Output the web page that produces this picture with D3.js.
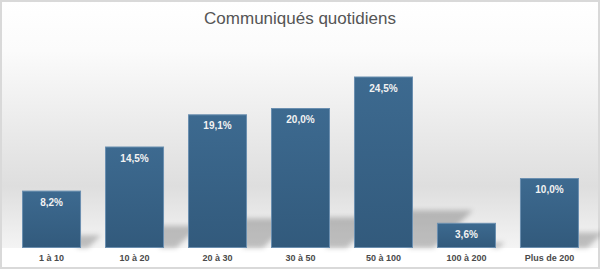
<!DOCTYPE html>
<html>
<head>
<meta charset="utf-8">
<script src="https://cdn.jsdelivr.net/npm/d3@7"></script>
<style>
  body { margin: 0; background: #fff; }
  text { font-family: "Liberation Sans", Arial, sans-serif; }
</style>
</head>
<body>
<div id="chart"></div>
<script>
const width = 600;
const height = 269;

const categories = ["1 à 10", "10 à 20", "20 à 30", "30 à 50", "50 à 100", "100 à 200", "Plus de 200"];
const values = [8.2, 14.5, 19.1, 20.0, 24.5, 3.6, 10.0];
const title = "Communiqués quotidiens";

const baseY = 248;

const svg = d3
  .select("#chart")
  .append("svg")
  .attr("width", width)
  .attr("height", height);

const defs = svg.append("defs");

// background gradient
const bg = defs
  .append("linearGradient")
  .attr("id", "bg")
  .attr("x1", "0%").attr("x2", "0%")
  .attr("y1", "0%").attr("y2", "100%");
bg.append("stop").attr("offset", "0%").attr("stop-color", "#ffffff");
bg.append("stop").attr("offset", "20%").attr("stop-color", "#fbfbfb");
bg.append("stop").attr("offset", "75%").attr("stop-color", "#dedede");
bg.append("stop").attr("offset", "100%").attr("stop-color", "#f4f4f4");

const barGrad = defs
  .append("linearGradient")
  .attr("id", "bar")
  .attr("x1", "0%").attr("x2", "0%")
  .attr("y1", "0%").attr("y2", "100%");
barGrad.append("stop").attr("offset", "0%").attr("stop-color", "#3d6a90");
barGrad.append("stop").attr("offset", "100%").attr("stop-color", "#325a7c");

defs.append("filter")
  .attr("id", "blur")
  .attr("x", "-20%").attr("y", "-20%")
  .attr("width", "140%").attr("height", "140%")
  .append("feGaussianBlur")
  .attr("stdDeviation", 2.5);

svg.append("rect")
  .attr("x", 1).attr("y", 1)
  .attr("width", width - 2).attr("height", baseY - 1)
  .attr("fill", "url(#bg)");

svg.append("rect")
  .attr("x", 1).attr("y", 1)
  .attr("width", width - 2).attr("height", height - 2)
  .attr("fill", "none")
  .attr("stroke", "#d9d9d9")
  .attr("stroke-width", 2);

const x = d3.scaleBand()
  .domain(categories)
  .range([10, 591])
  .paddingInner(0.289)
  .paddingOuter(0.145);

const y = d3.scaleLinear().domain([0, 30]).range([baseY, 38]);

const data = categories.map((c, i) => ({ cat: c, value: values[i] }));

// shadows
svg.append("g")
  .attr("filter", "url(#blur)")
  .selectAll("path")
  .data(data)
  .enter()
  .append("path")
  .attr("fill", "rgba(0,0,0,0.22)")
  .attr("d", (d) => {
    const xr = x(d.cat) + x.bandwidth() - 4;
    const h = baseY - y(d.value);
    const top = baseY - h * 0.22;
    return `M${xr},${baseY} L${xr},${top} L${xr + 4 + h * 0.35},${top} L${xr + 4 + h * 0.12},${baseY} Z`;
  });

// bars
svg.append("g")
  .selectAll("rect")
  .data(data)
  .enter()
  .append("rect")
  .attr("x", (d) => x(d.cat) + 0.5)
  .attr("y", (d) => y(d.value) + 0.5)
  .attr("width", x.bandwidth() - 1)
  .attr("height", (d) => baseY - y(d.value) - 1)
  .attr("fill", "url(#bar)")
  .attr("stroke", "#6b8fb0")
  .attr("stroke-width", 1);

// value labels
svg.append("g")
  .selectAll("text")
  .data(data)
  .enter()
  .append("text")
  .attr("x", (d) => x(d.cat) + x.bandwidth() / 2)
  .attr("y", (d) => y(d.value) + 15)
  .attr("text-anchor", "middle")
  .attr("fill", "#f2f2f2")
  .style("font-size", "10px")
  .style("font-weight", "bold")
  .text((d) => d3.format(".1f")(d.value).replace(".", ",") + "%");

// category axis
const axis = svg.append("g")
  .attr("transform", `translate(0,${baseY})`)
  .call(d3.axisBottom(x).tickSize(0).tickPadding(7));
axis.select(".domain").remove();
axis.selectAll("text")
  .attr("fill", "#4a4a4a")
  .style("font-size", "9px")
  .style("font-weight", "bold")
  .style("font-family", "'Liberation Sans', Arial, sans-serif");

svg.append("text")
  .attr("x", width / 2)
  .attr("y", 24)
  .attr("text-anchor", "middle")
  .attr("fill", "#555")
  .style("font-size", "17px")
  .text(title);
</script>
</body>
</html>
